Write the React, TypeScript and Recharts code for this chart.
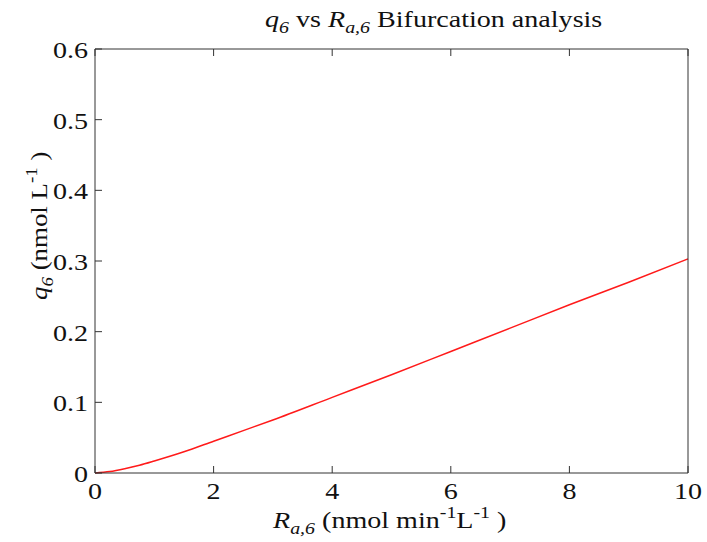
import React from 'react';
import { LineChart, Line, XAxis, YAxis, Label } from 'recharts';

const xValues = [0, 0.25, 0.5, 0.75, 1, 1.5, 2, 2.5, 3, 4, 5, 6, 7, 8, 9, 10];
const qValues = [0, 0.002, 0.006, 0.011, 0.017, 0.03, 0.045, 0.06, 0.075, 0.107, 0.139, 0.172, 0.205, 0.238, 0.27, 0.303];
const xTicks = [0, 2, 4, 6, 8, 10];
const yTicks = [0, 0.1, 0.2, 0.3, 0.4, 0.5, 0.6];

const data = xValues.map((x, i) => ({ x, q: qValues[i] }));

const FAM = '"Liberation Serif", "Times New Roman", Times, serif';
const TS = { fontFamily: FAM, fontWeight: 400 } as React.CSSProperties;
const AX = '#333';
const TL = 7;
const SX = 1.17;

const BottomTick = (p: any) => (
  <g>
    <line x1={p.x} y1={p.y} x2={p.x} y2={p.y - TL} stroke={AX} strokeWidth={1} />
    <text transform={`translate(${p.x},${p.y + 26}) scale(${SX},1)`} x={0} y={0} textAnchor="middle" style={TS} fontSize={24} fill="#111">
      {String(p.payload.value)}
    </text>
  </g>
);
const TopTick = (p: any) => (
  <line x1={p.x} y1={p.y} x2={p.x} y2={p.y + TL} stroke={AX} strokeWidth={1} />
);
const LeftTick = (p: any) => (
  <g>
    <line x1={p.x} y1={p.y} x2={p.x + TL} y2={p.y} stroke={AX} strokeWidth={1} />
    <text transform={`translate(${p.x - 7},${p.y + 9}) scale(${SX},1)`} x={0} y={0} textAnchor="end" style={TS} fontSize={24} fill="#111">
      {String(p.payload.value)}
    </text>
  </g>
);
const RightTick = (p: any) => (
  <line x1={p.x} y1={p.y} x2={p.x - TL} y2={p.y} stroke={AX} strokeWidth={1} />
);

const TitleLabel = (props: any) => {
  const vb = props.viewBox;
  const x = vb.x + 170;
  const y = vb.y - 21;
  return (
    <text transform={`translate(${x},${y}) scale(${SX},1)`} x={0} y={0} style={TS} fontSize={24} fill="#111">
      <tspan fontStyle="italic">q</tspan>
      <tspan fontStyle="italic" fontSize={17} dy={6}>6</tspan>
      <tspan dy={-6}> vs </tspan>
      <tspan fontStyle="italic">R</tspan>
      <tspan fontStyle="italic" fontSize={17} dy={6}>a,6</tspan>
      <tspan dy={-6}> Bifurcation analysis</tspan>
    </text>
  );
};

const XLabel = (props: any) => {
  const vb = props.viewBox;
  const x = vb.x + 178;
  const y = vb.y + 55;
  return (
    <text transform={`translate(${x},${y}) scale(${SX},1)`} x={0} y={0} style={TS} fontSize={24} fill="#111">
      <tspan fontStyle="italic">R</tspan>
      <tspan fontStyle="italic" fontSize={17} dy={6}>a,6</tspan>
      <tspan dy={-6}> (nmol min</tspan>
      <tspan fontSize={17} dy={-10}>-1</tspan>
      <tspan dy={10}>L</tspan>
      <tspan fontSize={17} dy={-10}>-1</tspan>
      <tspan dy={10}> )</tspan>
    </text>
  );
};

const YLabel = (props: any) => {
  const vb = props.viewBox;
  const x = vb.x - 47;
  const y = vb.y + 251;
  return (
    <text transform={`translate(${x},${y}) rotate(-90) scale(1.12,1)`} x={0} y={0} style={TS} fontSize={24} fill="#111">
      <tspan fontStyle="italic">q</tspan>
      <tspan fontStyle="italic" fontSize={17} dy={6}>6</tspan>
      <tspan dy={-6}> (nmol L</tspan>
      <tspan fontSize={17} dy={-10}>-1</tspan>
      <tspan dy={10}> )</tspan>
    </text>
  );
};

export default function App() {
  return (
    <div style={{ position: 'absolute', left: 0, top: 0, width: 707, height: 542, background: '#fff', fontFamily: FAM }}>
      <LineChart width={707} height={542} data={data} margin={{ top: 48, right: 18, bottom: 68, left: 94 }}>
        <XAxis
          xAxisId="bottom"
          dataKey="x"
          type="number"
          domain={[0, 10]}
          ticks={xTicks}
          height={1}
          tickSize={0}
          tickMargin={0}
          tickLine={false}
          tick={BottomTick}
          axisLine={{ stroke: AX, strokeWidth: 1 }}
          interval={0}
        >
          <Label content={XLabel} />
        </XAxis>
        <XAxis
          xAxisId="top"
          orientation="top"
          dataKey="x"
          type="number"
          domain={[0, 10]}
          ticks={xTicks}
          height={1}
          tickSize={0}
          tickMargin={0}
          tickLine={false}
          tick={TopTick}
          axisLine={{ stroke: AX, strokeWidth: 1 }}
          interval={0}
        >
          <Label content={TitleLabel} />
        </XAxis>
        <YAxis
          yAxisId="left"
          type="number"
          domain={[0, 0.6]}
          ticks={yTicks}
          width={1}
          tickSize={0}
          tickMargin={0}
          tickLine={false}
          tick={LeftTick}
          axisLine={{ stroke: AX, strokeWidth: 1 }}
          interval={0}
        >
          <Label content={YLabel} />
        </YAxis>
        <YAxis
          yAxisId="right"
          orientation="right"
          type="number"
          domain={[0, 0.6]}
          ticks={yTicks}
          width={1}
          tickSize={0}
          tickMargin={0}
          tickLine={false}
          tick={RightTick}
          axisLine={{ stroke: AX, strokeWidth: 1 }}
          interval={0}
        />
        <Line
          xAxisId="bottom"
          yAxisId="left"
          dataKey="q"
          type="monotone"
          stroke="#ff1a1a"
          strokeWidth={1.5}
          dot={false}
          isAnimationActive={false}
        />
      </LineChart>
    </div>
  );
}
